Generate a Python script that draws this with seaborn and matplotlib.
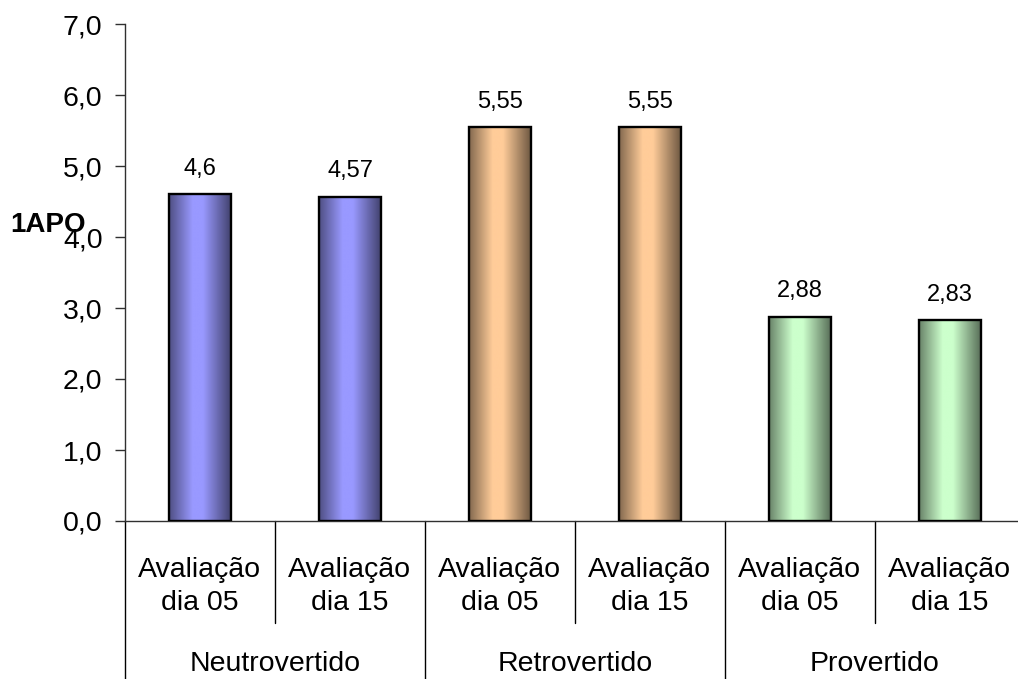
import numpy as np
import pandas as pd
import matplotlib
matplotlib.use("Agg")
import matplotlib.pyplot as plt
import matplotlib.colors as mcolors
import seaborn as sns

# Data
groups = ["Neutrovertido", "Neutrovertido", "Retrovertido", "Retrovertido",
          "Provertido", "Provertido"]
sessions = ["Avaliação\ndia 05", "Avaliação\ndia 15", "Avaliação\ndia 05",
            "Avaliação\ndia 15", "Avaliação\ndia 05", "Avaliação\ndia 15"]
values = [4.6, 4.57, 5.55, 5.55, 2.88, 2.83]
group_names = ["Neutrovertido", "Retrovertido", "Provertido"]
group_colors = ["#9999FF", "#FFCC99", "#CCFFCC"]
y_label = "1APO"
y_ticks = [0, 1, 2, 3, 4, 5, 6, 7]

df = pd.DataFrame({
    "key": [f"{g}|{i}" for i, g in enumerate(groups)],
    "grupo": groups,
    "sessao": sessions,
    "valor": values,
})

sns.set_style("white")
plt.rcParams["font.family"] = ["Liberation Sans", "DejaVu Sans"]
plt.rcParams["text.color"] = "black"
plt.rcParams["ytick.labelcolor"] = "black"

W, H = 1018, 679
fig = plt.figure(figsize=(W / 100, H / 100), dpi=100)
# axes spans 125..1025 px horizontally, 24..521 px vertically
ax = fig.add_axes([125 / W, (H - 521) / H, 900 / W, 497 / H])

sns.barplot(data=df, x="key", y="valor", hue="grupo", hue_order=group_names,
            palette=group_colors, dodge=False, width=0.41, legend=False,
            edgecolor="black", linewidth=1.7, saturation=1, ax=ax)

# cylinder-style horizontal shading inside each bar
t = np.linspace(0, 1, 64)
shade = np.interp(t, [0, 0.38, 0.55, 1], [0.52, 1.0, 1.0, 0.44])
col_of = dict(zip(group_names, group_colors))
bars = sorted([p for p in ax.patches if p.get_height() > 0], key=lambda p: p.get_x())
for p, g in zip(bars, groups):
    base = np.array(mcolors.to_rgb(col_of[g]))
    img = (shade[:, None] * base[None, :])[None, :, :]
    x0, w, h = p.get_x(), p.get_width(), p.get_height()
    im = ax.imshow(img, extent=[x0, x0 + w, 0, h], aspect="auto",
                   interpolation="bilinear", zorder=2)
    im.set_clip_path(p)
    p.set_facecolor("none")
    p.set_zorder(3)

ax.set_xlim(-0.5, 5.5)
ax.set_ylim(0, 7)

# value labels
for i, v in enumerate(values):
    ax.annotate(f"{v:g}".replace(".", ","), (i, v), xytext=(0, 14),
                textcoords="offset points", ha="center", va="baseline",
                fontsize=17, color="black")

# axes styling
for s in ["top", "right"]:
    ax.spines[s].set_visible(False)
for s in ["left", "bottom"]:
    ax.spines[s].set_color("#303030")
    ax.spines[s].set_linewidth(1.0)

ax.set_yticks(y_ticks)
ax.set_yticklabels([f"{v:.1f}".replace(".", ",") for v in y_ticks],
                   fontsize=20.5, color="black")
ax.tick_params(axis="y", direction="out", length=7.2, width=1.0,
               color="#303030", pad=9, left=True)
ax.set_xticks([])
ax.set_xlabel("")
ax.set_ylabel("")

# two-level category axis
trans = ax.get_xaxis_transform()
for i, lab in enumerate(sessions):
    ax.text(i, -0.132, lab, transform=trans, ha="center", va="center",
            fontsize=20.5, linespacing=1.33, clip_on=False, color="black")
for k, g in enumerate(group_names):
    ax.text(2 * k + 0.5, -0.287, g, transform=trans, ha="center",
            va="center", fontsize=20.5, clip_on=False, color="black")
for xb in [0.5, 2.5, 4.5]:
    ax.plot([xb, xb], [0, -0.205], transform=trans, color="black",
            lw=1.0, clip_on=False)
for xb in [-0.5, 1.5, 3.5, 5.5]:
    ax.plot([xb, xb], [0, -0.4], transform=trans, color="black",
            lw=1.0, clip_on=False)

fig.text(10 / W, 1 - 225 / H, y_label, ha="left", va="center",
         fontsize=20, fontweight="bold", color="black")

fig.savefig("out.png", dpi=100)
